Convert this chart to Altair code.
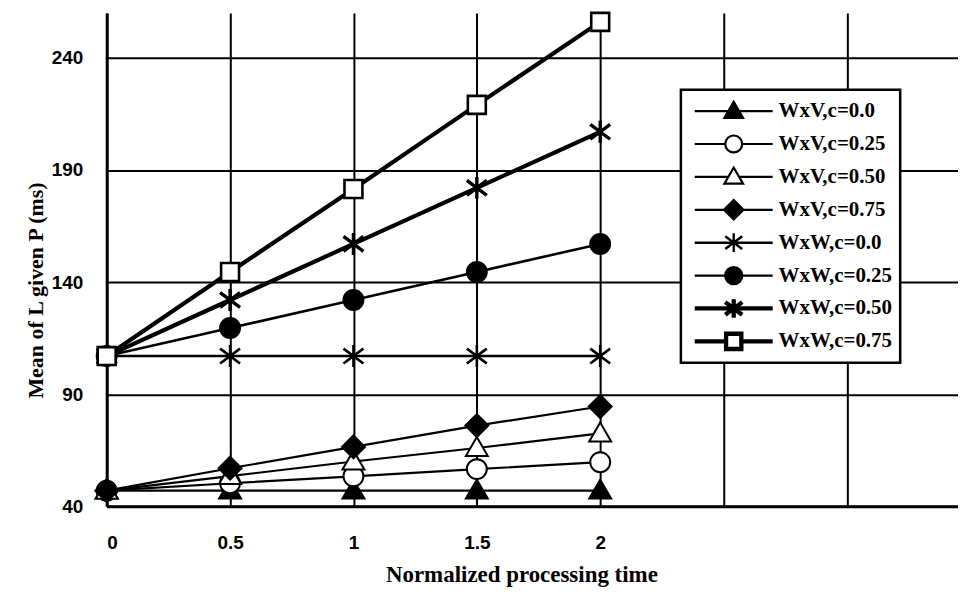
import altair as alt
import pandas as pd

# ---- data ----
x_vals = [0, 0.5, 1, 1.5, 2]
series_names = ["WxV,c=0.0", "WxV,c=0.25", "WxV,c=0.50", "WxV,c=0.75",
                "WxW,c=0.0", "WxW,c=0.25", "WxW,c=0.50", "WxW,c=0.75"]
wxv_c000 = [47, 47, 47, 47, 47]
wxv_c025 = [47, 50.3, 53.4, 56.6, 59.7]
wxv_c050 = [47, 53.5, 60, 66, 72.5]
wxv_c075 = [47, 57, 66.5, 76, 84.5]
wxw_c000 = [107, 107, 107, 107, 107]
wxw_c025 = [107, 119.5, 132, 144.5, 157]
wxw_c050 = [107, 132, 157, 182, 207]
wxw_c075 = [107, 144.5, 181.5, 219, 256]
all_series = [wxv_c000, wxv_c025, wxv_c050, wxv_c075,
              wxw_c000, wxw_c025, wxw_c050, wxw_c075]

x_ticks = [0, 0.5, 1, 1.5, 2, 2.5, 3]
y_ticks = [40, 90, 140, 190, 240]

rows = []
for name, vals in zip(series_names, all_series):
    for xv, yv in zip(x_vals, vals):
        rows.append({"series": name, "t": xv, "L": yv})
df = pd.DataFrame(rows)

# ---- marker styles ----
TRI = "M0,-1.1L1.1,0.8L-1.1,0.8Z"
CIR = "M1,0A1,1 0 1,1 -1,0A1,1 0 1,1 1,0Z"
DIA = "M0,-1.15L1.15,0L0,1.15L-1.15,0Z"
AST = "M-1,-0.75L1,0.75M-1,0.75L1,-0.75M0,-1.1L0,1.1"
SQR = "M-0.9,-0.9H0.9V0.9H-0.9Z"
marker_paths = [TRI, CIR, TRI, DIA, AST, CIR, AST, SQR]

L = 4.6
def with_line(marker, gap):
    return f"M-{L},0L-{gap},0M{gap},0L{L},0" + marker
legend_paths = [with_line(TRI, 0.64), with_line(CIR, 1), with_line(TRI, 0.64),
                with_line(DIA, 1.15), f"M-{L},0L{L},0" + AST, with_line(CIR, 1),
                f"M-{L},0L{L},0" + AST, with_line(SQR, 0.9)]
fills = ["black", "white", "white", "black", "black", "black", "black", "white"]
strokes = ["black"] * 8
line_widths = [2.2, 2.2, 2.2, 2.2, 2.6, 2.6, 4.2, 4.2]
point_widths = [2, 2, 2, 2, 2.6, 2, 3.4, 2.6]
legend_widths = [2.2, 2.2, 2.2, 2.2, 2.4, 2.4, 4.3, 4.3]

x_enc = alt.X("t:Q", scale=alt.Scale(domain=[0, 3.45], nice=False, zero=False),
              axis=alt.Axis(values=x_ticks, title="Normalized processing time",
                            labelExpr="datum.value <= 2 ? '' + datum.value : ''",
                            titleX=416, titleY=75, titleBaseline="alphabetic",
                            titleAlign="center", titleFontSize=23,
                            labelPadding=27))
y_enc = alt.Y("L:Q", scale=alt.Scale(domain=[40, 260], nice=False, zero=False),
              axis=alt.Axis(values=y_ticks, format="d", title="Mean of L given P (ms)",
                            titleX=-64, titleY=278, titleBaseline="alphabetic",
                            titleAlign="center", titleAngle=-90, titleFontSize=22,
                            labelPadding=24))

def sw_scale(rng):
    return alt.Scale(type="ordinal", domain=series_names, range=rng)

base = alt.Chart(df)

lines = base.mark_line(color="black").encode(
    x=x_enc, y=y_enc, detail="series:N",
    strokeWidth=alt.StrokeWidth("series:O", scale=sw_scale(line_widths), legend=None),
)

points = base.mark_point(filled=True, stroke="black", opacity=1, size=400).encode(
    x="t:Q", y="L:Q",
    shape=alt.Shape("series:N", scale=alt.Scale(domain=series_names, range=marker_paths), legend=None),
    fill=alt.Fill("series:N", scale=alt.Scale(domain=series_names, range=fills), legend=None),
    strokeWidth=alt.StrokeWidth("series:O", scale=sw_scale(point_widths), legend=None),
)

leg = alt.Legend(title=None, orient="none", legendX=576, legendY=77,
                 symbolSize=289, symbolOffset=34, labelOffset=34,
                 rowPadding=6, padding=8, clipHeight=27, symbolOpacity=1,
                 labelFont="Liberation Serif", labelFontSize=21, labelFontWeight="bold",
                 labelColor="black", fillColor="white", strokeColor="black")

legend_layer = base.mark_point(filled=True, opacity=0, size=289).encode(
    x="t:Q", y="L:Q",
    shape=alt.Shape("series:N", scale=alt.Scale(domain=series_names, range=legend_paths), legend=leg),
    fill=alt.Fill("series:N", scale=alt.Scale(domain=series_names, range=fills), legend=leg),
    stroke=alt.Stroke("series:N", scale=alt.Scale(domain=series_names, range=strokes), legend=leg),
    strokeWidth=alt.StrokeWidth("series:O", scale=sw_scale(legend_widths), legend=leg),
)

chart = alt.layer(lines, points, legend_layer).resolve_scale(
    shape="independent", fill="independent", strokeWidth="independent", stroke="independent"
).properties(
    width=854, height=495,
    padding={"left": 99, "top": 4, "right": 0, "bottom": 85},
    autosize=alt.AutoSizeParams(type="none"),
).configure_view(stroke=None).configure_axis(
    grid=True, gridColor="black", gridWidth=2, gridOpacity=1,
    domainColor="black", domainWidth=3, ticks=False,
    labelFont="Liberation Sans", labelFontSize=19, labelFontWeight="bold", labelColor="black",
    titleFont="Liberation Serif", titleFontWeight="bold", titleColor="black",
).configure_legend(strokeWidth=2.5)

chart.save("out.html", embed_options={"renderer": "svg", "actions": False})
